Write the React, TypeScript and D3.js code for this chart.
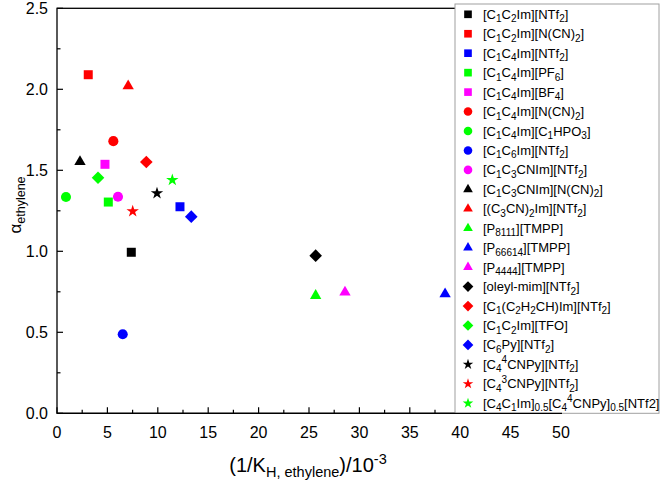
import React from "react";
import * as d3 from "d3";

// ---- data ----
const seriesNames: string[] = [
  "[C_{1}C_{2}Im][NTf_{2}]",
  "[C_{1}C_{2}Im][N(CN)_{2}]",
  "[C_{1}C_{4}Im][NTf_{2}]",
  "[C_{1}C_{4}Im][PF_{6}]",
  "[C_{1}C_{4}Im][BF_{4}]",
  "[C_{1}C_{4}Im][N(CN)_{2}]",
  "[C_{1}C_{4}Im][C_{1}HPO_{3}]",
  "[C_{1}C_{6}Im][NTf_{2}]",
  "[C_{1}C_{3}CNIm][NTf_{2}]",
  "[C_{1}C_{3}CNIm][N(CN)_{2}]",
  "[(C_{3}CN)_{2}Im][NTf_{2}]",
  "[P_{8111}][TMPP]",
  "[P_{66614}][TMPP]",
  "[P_{4444}][TMPP]",
  "[oleyl-mim][NTf_{2}]",
  "[C_{1}(C_{2}H_{2}CH)Im][NTf_{2}]",
  "[C_{1}C_{2}Im][TFO]",
  "[C_{6}Py][NTf_{2}]",
  "[C_{4}^{4}CNPy][NTf_{2}]",
  "[C_{4}^{3}CNPy][NTf_{2}]",
  "[C_{4}C_{1}Im]_{0.5}[C_{4}^{4}CNPy]_{0.5}[NTf2]",
];
const xValues: number[] = [
  7.37, 3.1, 12.2, 5.09, 4.76, 5.59, 0.89, 6.52, 6.05, 2.28, 7.06,
  25.66, 38.5, 28.57, 25.66, 8.86, 4.07, 13.32, 9.92, 7.51, 11.44,
];
const yValues: number[] = [
  0.994, 2.09, 1.275, 1.304, 1.537, 1.68, 1.335, 0.488, 1.337, 1.553, 2.02,
  0.726, 0.736, 0.747, 0.973, 1.551, 1.454, 1.214, 1.358, 1.247, 1.44,
];
const markerShapes: string[] = [
  "square", "square", "square", "square", "square",
  "circle", "circle", "circle", "circle",
  "triangle", "triangle", "triangle", "triangle", "triangle",
  "diamond", "diamond", "diamond", "diamond",
  "star", "star", "star",
];
const markerColors: string[] = [
  "#000000", "#ff0000", "#0000ff", "#00ff00", "#ff00ff",
  "#ff0000", "#00ff00", "#0000ff", "#ff00ff",
  "#000000", "#ff0000", "#00ff00", "#0000ff", "#ff00ff",
  "#000000", "#ff0000", "#00ff00", "#0000ff",
  "#000000", "#ff0000", "#00ff00",
];
const xTicks: number[] = [0, 5, 10, 15, 20, 25, 30, 35, 40, 45, 50];
const yTicks: number[] = [0, 0.5, 1.0, 1.5, 2.0, 2.5];

// ---- layout ----
const W = 661;
const H = 480;
const left = 57;
const right = 561;
const top = 8.3;
const bottom = 413.3;
const FONT = "Liberation Sans, Arial, Helvetica, sans-serif";

const xScale = d3.scaleLinear().domain([0, 50]).range([left, right]);
const yScale = d3.scaleLinear().domain([0, 2.5]).range([bottom, top]);

function markerPath(shape: string, s: number): string {
  if (shape === "square") return d3.symbol(d3.symbolSquare, 81 * s * s)()!;
  if (shape === "circle") return d3.symbol(d3.symbolCircle, 80 * s * s)()!;
  if (shape === "triangle") return d3.symbol(d3.symbolTriangle, 56 * s * s)()!;
  if (shape === "star") return d3.symbol(d3.symbolStar, 48 * s * s)()!;
  const r = 6.3 * s;
  return `M0,${-r}L${r},0L0,${r}L${-r},0Z`;
}

type Tok = { t: string; k: "n" | "sub" | "sup" };
function parseRich(str: string): Tok[] {
  const out: Tok[] = [];
  let i = 0;
  let buf = "";
  while (i < str.length) {
    const c = str[i];
    if ((c === "_" || c === "^") && str[i + 1] === "{") {
      if (buf) { out.push({ t: buf, k: "n" }); buf = ""; }
      const end = str.indexOf("}", i);
      out.push({ t: str.slice(i + 2, end), k: c === "_" ? "sub" : "sup" });
      i = end + 1;
    } else {
      buf += c;
      i++;
    }
  }
  if (buf) out.push({ t: buf, k: "n" });
  return out;
}

function RichText(props: { text: string; size: number; subSize: number; subDy: number; supDy: number }) {
  const toks = parseRich(props.text);
  let cur = 0;
  return (
    <>
      {toks.map((tk, i) => {
        const target = tk.k === "sub" ? props.subDy : tk.k === "sup" ? -props.supDy : 0;
        const dy = target - cur;
        cur = target;
        return (
          <tspan key={i} dy={dy} fontSize={tk.k === "n" ? props.size : props.subSize}>
            {tk.t}
          </tspan>
        );
      })}
    </>
  );
}

export default function App() {
  const xMinor = d3.range(0, 50.01, 2.5);
  const yMinor = d3.range(0, 2.501, 0.25);
  const legX = 455;
  const legY = 4;
  const legW = 204;
  const legH = 409.3;
  const rowY0 = 14.3;
  const rowStep = 19.45;

  return (
    <svg
      width={W}
      height={H}
      style={{ position: "absolute", left: 0, top: 0, background: "#fff" }}
      fontFamily={FONT}
    >
      <rect x={0} y={0} width={W} height={H} fill="#fff" />
      <rect x={left} y={top} width={right - left} height={bottom - top} fill="none" stroke="#000" strokeWidth={1.3} />
      {xMinor.map((v, i) => {
        const major = Math.abs(v % 5) < 1e-6;
        return (
          <line key={"xt" + i} x1={xScale(v)} x2={xScale(v)} y1={bottom} y2={bottom - (major ? 6 : 3.5)} stroke="#000" strokeWidth={1.2} />
        );
      })}
      {yMinor.map((v, i) => {
        const major = Math.abs((v * 2) % 1) < 1e-6;
        return (
          <line key={"yt" + i} x1={left} x2={left + (major ? 6 : 3.5)} y1={yScale(v)} y2={yScale(v)} stroke="#000" strokeWidth={1.2} />
        );
      })}
      {xTicks.map((v) => (
        <text key={"xl" + v} x={xScale(v)} y={438} textAnchor="middle" fontSize={16} fill="#000">
          {v}
        </text>
      ))}
      {yTicks.map((v) => (
        <text key={"yl" + v} x={48} y={yScale(v) + 5.5} textAnchor="end" fontSize={16} fill="#000">
          {v.toFixed(1)}
        </text>
      ))}
      <text x={308} y={472} textAnchor="middle" fontSize={20} fill="#000">
        <RichText text={"(1/K_{H, ethylene})/10^{-3}"} size={20} subSize={14.5} subDy={4.5} supDy={8} />
      </text>
      <text transform={`translate(21,${205}) rotate(-90)`} textAnchor="middle" fontSize={17} fill="#000">
        <RichText text={"α_{ethylene}"} size={17} subSize={12.5} subDy={4} supDy={7} />
      </text>
      {xValues.map((xv, i) => (
        <path
          key={"p" + i}
          d={markerPath(markerShapes[i], 1)}
          transform={`translate(${xScale(xv)},${yScale(yValues[i])})`}
          fill={markerColors[i]}
        />
      ))}
      <rect x={legX} y={legY} width={legW} height={legH} fill="#fff" stroke="#a0a0a0" strokeWidth={1} />
      {seriesNames.map((name, i) => {
        const cy = rowY0 + i * rowStep;
        return (
          <g key={"lg" + i}>
            <path d={markerPath(markerShapes[i], 0.85)} transform={`translate(468,${cy})`} fill={markerColors[i]} />
            <text x={483} y={cy + 4.5} fontSize={13} fill="#000">
              <RichText text={name} size={13} subSize={10} subDy={3.5} supDy={5.5} />
            </text>
          </g>
        );
      })}
      <line x1={left} x2={right + 1} y1={bottom} y2={bottom} stroke="#000" strokeWidth={1.3} />
    </svg>
  );
}
